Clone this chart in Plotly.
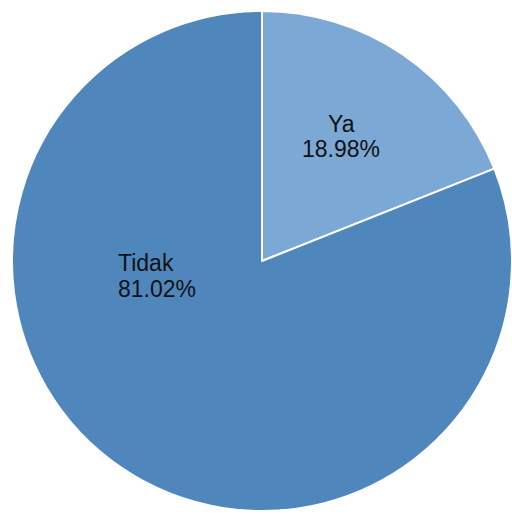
import plotly.graph_objects as go

# Share of answers
labels = ["Ya", "Tidak"]
values = [18.98, 81.02]
colors = ["#7ba8d5", "#4f87bd"]

W, H = 512, 514
cx, cy, r = 262, 261, 250  # pie centre and radius in px (from top-left)

fig = go.Figure(
    go.Pie(
        labels=labels,
        values=values,
        sort=False,
        direction="clockwise",
        rotation=0,
        marker=dict(colors=colors, line=dict(color="white", width=2)),
        textinfo="none",
        hoverinfo="label+percent",
        showlegend=False,
        domain=dict(
            x=[(cx - r) / W, min(1, (cx + r) / W)],
            y=[(H - cy - r) / H, (H - cy + r) / H],
        ),
    )
)

# Labels: name on one line, percentage below
label_pos = {
    "Ya": dict(x=341, y=124, xanchor="center", dy=25),
    "Tidak": dict(x=116, y=263, xanchor="left", dy=26),
}
total = sum(values)
for lab, val in zip(labels, values):
    p = label_pos[lab]
    for i, txt in enumerate([lab, f"{val / total * 100:.2f}%"]):
        fig.add_annotation(
            x=p["x"] / W,
            y=1 - (p["y"] + i * p["dy"]) / H,
            xref="paper",
            yref="paper",
            text=txt,
            showarrow=False,
            xanchor=p["xanchor"],
            yanchor="middle",
            font=dict(family="Liberation Sans, Arial", size=23, color="#111111"),
        )

fig.update_layout(
    width=W,
    height=H,
    margin=dict(l=0, r=0, t=0, b=0),
    paper_bgcolor="white",
    plot_bgcolor="white",
)

fig.write_html("out.html")
